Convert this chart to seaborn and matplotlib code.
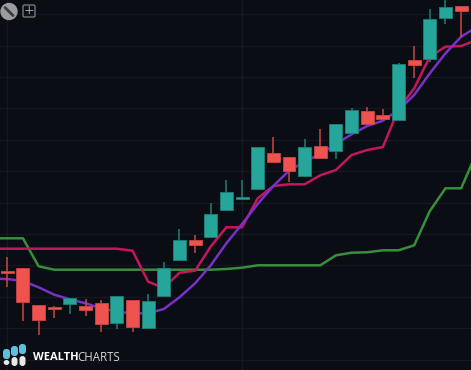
import numpy as np
import pandas as pd
import seaborn as sns
import matplotlib.pyplot as plt
from matplotlib.patches import Circle, FancyBboxPatch

# candles
opens = [99.3, 102.3, 65, 63.3, 66.3, 64, 67.3, 47.3, 70.3, 42.3, 74, 110.3, 130.3, 133.5, 159.7,
         170.7, 180.7, 216.7, 212.7, 193.7, 224.3, 219, 237, 258.7, 255.3, 250, 309.7, 311, 352.3, 364]
closes = [97.3, 68.3, 50, 61, 72.3, 60, 46.3, 74, 43, 69, 102, 130.3, 125.3, 156.3, 178.3,
          173.3, 222.7, 207.7, 198.7, 222.7, 211.7, 246.3, 259.7, 246, 251, 305.7, 305, 351, 362.7, 359.3]
highs = [112.7, 102.3, 65, 64, 72.3, 71.3, 70, 74, 70.3, 76, 108, 140.7, 135, 167.3, 189.7,
         189.7, 222.7, 233.3, 212.7, 230.7, 240.7, 246.3, 261.7, 263.3, 260.7, 307.3, 324.3, 361, 372, 364]
lows = [83.3, 49.3, 35, 52.3, 56, 54, 38.3, 41.3, 38, 42.3, 73, 110.3, 116.7, 133.5, 159.7,
        170.7, 180.7, 207.7, 187.7, 193, 211.7, 210.7, 237, 246, 250, 250, 292.3, 308.3, 346.3, 333.3]

# indicator lines, one point before and one after the candles
purple_vals = [91.3, 91, 89, 82.7, 75.3, 70.7, 66.7, 61.7, 58.3, 56.7, 56.7, 61, 72.7, 86.7, 104.7, 126.7,
               146, 166, 184, 199.3, 208.3, 216, 226, 235.7, 244, 249.3, 260, 275, 296.7, 316.7, 333.3, 343]
crimson_vals = [121.3, 121.3, 121.3, 121.3, 121.3, 121.3, 121.3, 121.3, 121.3, 119.3, 88.3, 82, 97.3, 99.3, 123.5, 142.7,
                142.7, 171.7, 184, 185.7, 185.7, 194.7, 200, 215, 220, 223, 261, 281.7, 313.3, 323.3, 324, 330]
green_vals = [131.7, 131.7, 131.7, 103.7, 100.3, 100.3, 100.3, 100.3, 100.3, 100.3, 100.3, 100.3, 100.3, 100.3, 100.3, 101,
              102.3, 104.7, 104.7, 104.7, 104.7, 104.7, 114.7, 117.3, 117.7, 119.7, 119.7, 124.7, 159, 181.7, 181.7, 217.7]

grid_levels = [10.4, 41.8, 73.2, 104.6, 136, 167.4, 198.8, 230.2, 261.6, 293, 324.4, 355.7]

BG = '#0a0d13'
UP = '#26a69a'
DOWN = '#ef5350'

sns.set_theme(style='dark')
fig, ax = plt.subplots(figsize=(4.71, 3.7), dpi=100, facecolor=BG)
ax.set_position([0, 0, 1, 1])
ax.set_facecolor(BG)
ax.set_xlim(-0.467, 29.63)
ax.set_ylim(0, 370)

for lvl in grid_levels:
    ax.axhline(lvl, color='#141821', lw=1, zorder=0)
for xv in [0, 15]:
    ax.axvline(xv, color='#141821', lw=1, zorder=0)

# lines go under the candles
lines = pd.DataFrame({'x': np.arange(-1, 31), 'purple': purple_vals, 'crimson': crimson_vals, 'green': green_vals})
sns.lineplot(data=lines, x='x', y='green', color='#388e3c', lw=1.8, ax=ax, zorder=2)
sns.lineplot(data=lines, x='x', y='crimson', color='#c2185b', lw=1.8, ax=ax, zorder=2)
sns.lineplot(data=lines, x='x', y='purple', color='#7b2fc9', lw=1.8, ax=ax, zorder=2)

idx = np.arange(len(opens))
o = np.array(opens)
c = np.array(closes)
cols = [UP if b >= a else DOWN for a, b in zip(o, c)]
edge = ['#1f7f76' if b >= a else '#c94744' for a, b in zip(o, c)]
ax.vlines(idx, lows, highs, colors=edge, lw=1.1, zorder=3)
ax.bar(idx, np.abs(c - o), bottom=np.minimum(o, c), width=0.83, color=cols, edgecolor=edge, lw=0.6, zorder=4)

ax.set_xlabel('')
ax.set_ylabel('')
ax.set_xticks([])
ax.set_yticks([])
for s in ax.spines.values():
    s.set_visible(False)

# overlay in pixel units for toolbar and logo
ax2 = fig.add_axes([0, 0, 1, 1], facecolor='none')
ax2.set_xlim(0, 471)
ax2.set_ylim(370, 0)
ax2.axis('off')
ax2.add_patch(Circle((9, 11.5), 8, color='#9a9c9f'))
ax2.plot([5, 13], [7.5, 15.5], color='#3a3d42', lw=2)
ax2.add_patch(FancyBboxPatch((23, 5), 12, 12, boxstyle='round,pad=0,rounding_size=1.5', fc='none', ec='#77797d', lw=1))
ax2.text(29, 11, '+', color='#a5a7aa', fontsize=9, ha='center', va='center')

# logo
for bx, by, bh in [(3, 349, 10), (11, 346, 10), (19, 344, 10)]:
    ax2.add_patch(FancyBboxPatch((bx, by), 7, bh, boxstyle='round,pad=0,rounding_size=3', fc='#5bbfe0', ec='none'))
for bx, by, bh in [(3.5, 360, 5), (11.5, 357, 9), (19.5, 356, 10)]:
    ax2.add_patch(FancyBboxPatch((bx, by), 6, bh, boxstyle='round,pad=0,rounding_size=3', fc='#e8e8e8', ec='none'))
ax2.text(33, 357.5, 'WEALTH', color='white', fontsize=8, fontweight='bold', family='Open Sans', va='center')
ax2.text(77.5, 357.5, 'CHARTS', color='#d5d5d5', fontsize=8.3, family='Open Sans', va='center')

fig.savefig('out.png', dpi=100, facecolor=BG)
